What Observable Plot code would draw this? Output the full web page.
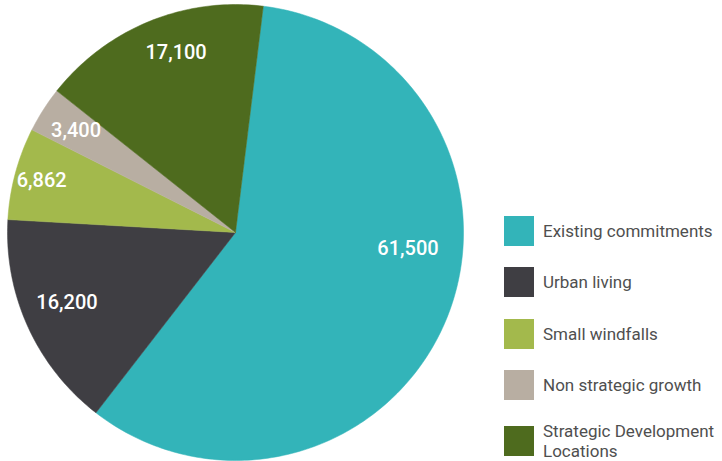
<!DOCTYPE html>
<html><head><meta charset="utf-8">
<script src="https://cdn.jsdelivr.net/npm/d3@7"></script>
<script src="https://cdn.jsdelivr.net/npm/@observablehq/plot@0.6"></script>
<style>
body{margin:0;background:#fff;}
#wrap{position:relative;width:722px;height:461px;overflow:hidden;font-family:Roboto,sans-serif;}
#legend{position:absolute;left:504px;top:216px;}
.item{position:absolute;left:0;display:flex;align-items:center;width:218px;}
.sw{width:30px;height:30px;flex:none;}
.lab{margin-left:9px;font-size:17px;color:#4f4f4f;line-height:20px;}
</style>
</head><body><div id="wrap"><div id="legend"></div></div>
<script>
const categories = ["Existing commitments","Urban living","Small windfalls","Non strategic growth","Strategic Development Locations"];
const values = [61500, 16200, 6862, 3400, 17100];
const valueLabels = ["61,500","16,200","6,862","3,400","17,100"];
const colors = ["#33b4b9","#3f3e43","#a3b94c","#b8aea2","#4e6b1e"];

const startDeg = 7;
const pie = d3.pie().sort(null).value(d => d.value)
  .startAngle(startDeg*Math.PI/180).endAngle((startDeg+360)*Math.PI/180);
const rows = categories.map((c,i)=>({category:c, value:values[i], label:valueLabels[i]}));
const arcs = pie(rows);

// slice polygons in unit-circle coordinates
const poly = [];
arcs.forEach(a => {
  const c = a.data.category;
  poly.push({category:c, x:0, y:0});
  const n = Math.max(2, Math.ceil((a.endAngle-a.startAngle)*180/Math.PI));
  for (let k=0;k<=n;k++){
    const t = a.startAngle + (a.endAngle-a.startAngle)*k/n;
    poly.push({category:c, x:Math.sin(t), y:Math.cos(t)});
  }
  poly.push({category:c, x:0, y:0});
});

// label placement: mid-angle, with nudges for legibility
const labelNudge = {"Existing commitments": -17, "Strategic Development Locations": 4, "Urban living": 2};
const labelR = {"Existing commitments":0.76, "Urban living":0.80, "Small windfalls":0.88, "Non strategic growth":0.83, "Strategic Development Locations":0.83};
const labelPts = arcs.map(a => {
  const m = (a.startAngle+a.endAngle)/2 + (labelNudge[a.data.category]||0)*Math.PI/180;
  const r = labelR[a.data.category];
  return {label:a.data.label, x:r*Math.sin(m), y:r*Math.cos(m)};
});

const chart = Plot.plot({
  width:722, height:461, margin:0,
  x:{domain:[-1,1], range:[7,463], axis:null},
  y:{domain:[-1,1], range:[460,4], axis:null},
  color:{domain:categories, range:colors},
  style:{background:"transparent"},
  marks:[
    Plot.line(poly, {x:"x", y:"y", z:"category", fill:"category", stroke:"category", strokeWidth:0.5, curve:"linear"}),
    Plot.text(labelPts, {x:"x", y:"y", text:"label", fill:"white", fontSize:20, fontWeight:500, fontFamily:"Roboto, sans-serif"})
  ]
});
document.getElementById("wrap").prepend(chart);

const tops = [0, 51, 103, 154, 205];
const legend = d3.select("#legend");
categories.forEach((c,i)=>{
  const it = legend.append("div").attr("class","item").style("top", tops[i]+"px");
  it.append("div").attr("class","sw").style("background", colors[i]);
  it.append("div").attr("class","lab").text(c);
});
</script>
</body></html>
